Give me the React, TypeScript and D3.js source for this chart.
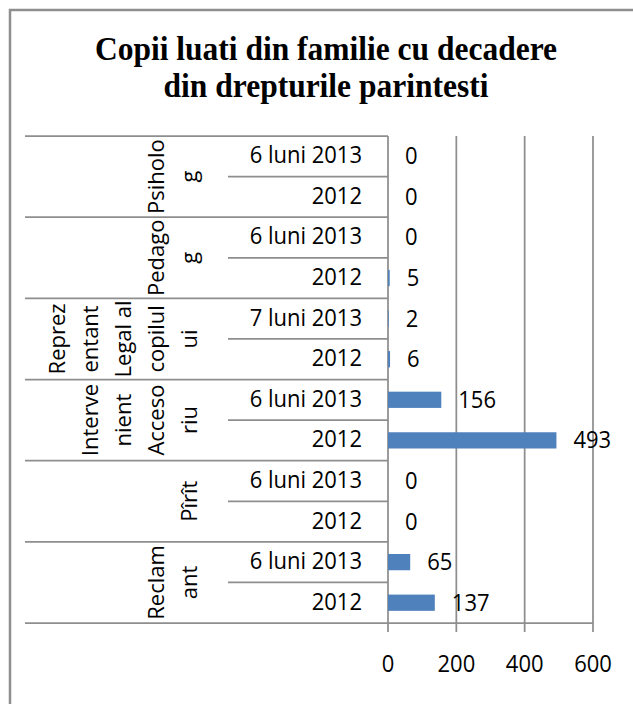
import React from 'react';
import * as d3 from 'd3';

// chart data
const groups = ['Psiholog', 'Pedagog', 'Reprezentant Legal al copilului', 'Intervenient Accesoriu', 'Pîrît', 'Reclamant'];
// the wrapped label lines as they appear on the axis
const groupLines = [
  ['Psiholo', 'g'],
  ['Pedago', 'g'],
  ['Reprez', 'entant', 'Legal al', 'copilul', 'ui'],
  ['Interve', 'nient', 'Acceso', 'riu'],
  ['Pîrît'],
  ['Reclam', 'ant'],
];
const periods = [
  ['6 luni 2013', '2012'],
  ['6 luni 2013', '2012'],
  ['7 luni 2013', '2012'],
  ['6 luni 2013', '2012'],
  ['6 luni 2013', '2012'],
  ['6 luni 2013', '2012'],
];
const values = [
  [0, 0],
  [0, 5],
  [2, 6],
  [156, 493],
  [0, 0],
  [65, 137],
];
const xTicks = [0, 200, 400, 600];
const titleLines = ['Copii luati din familie cu decadere', 'din drepturile parintesti'];

const W = 633;
const H = 704;
const plot = { left: 388, right: 593, top: 136, bottom: 623 };
const gridColor = '#8e8e8e';
const labelFont = "'Open Sans', sans-serif";
const stretch = 1.1; // the source picture is a bit taller than wide

const rows = groups.flatMap((g, gi) =>
  periods[gi].map((p, pi) => ({ key: `${g}|${p}`, group: gi, period: p, value: values[gi][pi] }))
);

// horizontal label, baseline at (x, y), slightly stretched vertically
const Label = ({ x, y, anchor, children }: { x: number; y: number; anchor: string; children: React.ReactNode }) => (
  <text transform={`translate(${x},${y}) scale(1,${stretch})`} textAnchor={anchor}
    style={{ fontFamily: labelFont, fontSize: 22 }} fill="#000">
    {children}
  </text>
);

const App = () => {
  const x = d3.scaleLinear().domain([0, 600]).range([plot.left, plot.right]);
  const y = d3.scaleBand()
    .domain(rows.map(r => r.key))
    .range([plot.top, plot.bottom])
    .paddingInner(0.6)
    .paddingOuter(0.3);
  const step = y.step();
  const rowTop = (i: number) => plot.top + i * step;
  const mid = (k: string) => (y(k) as number) + y.bandwidth() / 2;

  return (
    <div style={{ position: 'absolute', left: 0, top: 0 }}>
      <svg width={W} height={H} style={{ display: 'block' }}>
        <rect x={0} y={0} width={W} height={H} fill="#fff" />
        <rect x={10} y={10} width={W + 100} height={H + 100} fill="none" stroke={gridColor} strokeWidth={2.5} />

        {titleLines.map((t, i) => (
          <text key={i} transform={`translate(326,${60 + i * 37}) scale(1,1.05)`} textAnchor="middle"
            style={{ fontFamily: "'Liberation Serif', 'Times New Roman', serif", fontWeight: 'bold', fontSize: 31.5 }}>
            {t}
          </text>
        ))}

        {/* vertical gridlines and tick marks */}
        {xTicks.map(t => (
          <line key={t} x1={x(t)} x2={x(t)} y1={plot.top} y2={plot.bottom + 9} stroke={gridColor} strokeWidth={1.75} />
        ))}

        {/* row separators */}
        {rows.map((r, i) => {
          const isGroupEdge = i % 2 === 0;
          return (
            <line key={r.key} x1={isGroupEdge ? 25 : 228} x2={plot.left} y1={rowTop(i)} y2={rowTop(i)}
              stroke={gridColor} strokeWidth={1.75} />
          );
        })}
        <line x1={25} x2={plot.right} y1={plot.bottom} y2={plot.bottom} stroke={gridColor} strokeWidth={1.75} />

        {/* bars */}
        {rows.map(r => (
          <rect key={r.key} x={x(0)} y={y(r.key)} width={x(r.value) - x(0)} height={y.bandwidth()} fill="#4F81BD" />
        ))}

        {/* data labels */}
        {rows.map(r => (
          <Label key={r.key} x={x(r.value) + 17} y={mid(r.key) + 8} anchor="start">{r.value}</Label>
        ))}

        {/* period labels */}
        {rows.map(r => (
          <Label key={r.key} x={362} y={mid(r.key) + 7} anchor="end">{r.period}</Label>
        ))}

        {/* group labels, rotated */}
        {groupLines.map((lines, gi) => {
          const cy = plot.top + (2 * gi + 1) * step;
          return lines.map((ln, li) => (
            <text key={`${gi}-${li}`} transform={`translate(${197 - 33 * (lines.length - 1 - li)},${cy}) rotate(-90)`}
              textAnchor="middle" style={{ fontFamily: labelFont, fontSize: 22 }} fill="#000">
              {ln}
            </text>
          ));
        })}

        {/* x tick labels */}
        {xTicks.map(t => (
          <Label key={t} x={x(t)} y={672} anchor="middle">{t}</Label>
        ))}
      </svg>
    </div>
  );
};

export default App;
